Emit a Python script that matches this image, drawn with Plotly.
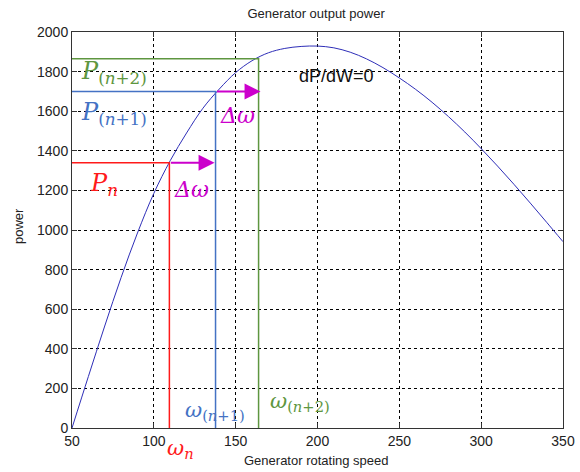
import plotly.graph_objects as go

# Generator power curve: rotating speed vs. output power
speed = [50, 60, 70, 80, 90, 100, 110, 120, 130, 140, 150, 160, 170, 180, 190,
         200, 210, 220, 230, 240, 250, 260, 270, 280, 290, 300, 310, 320, 330,
         340, 350]
power = [0, 260, 515, 760, 985, 1185, 1350, 1490, 1615, 1712, 1795, 1855, 1895,
         1917, 1927, 1929, 1920, 1898, 1864, 1820, 1768, 1710, 1645, 1573, 1495,
         1411, 1323, 1231, 1136, 1039, 941]

# Operating points for successive steps n, n+1, n+2
omega_steps = [109.5, 137.7, 164.0]
power_steps = [1340, 1700, 1865]
step_colors = ["#ff1a1a", "#4472c4", "#5e9640"]

x_ticks = [50, 100, 150, 200, 250, 300, 350]
y_ticks = [0, 200, 400, 600, 800, 1000, 1200, 1400, 1600, 1800, 2000]

MAGENTA = "#cc00cc"
SERIF = "DejaVu Serif"
SANS = "Liberation Sans, Arial"

fig = go.Figure()

fig.add_trace(go.Scatter(
    x=speed, y=power, mode="lines",
    line=dict(color="#2e2eb8", width=1, shape="spline", smoothing=1),
    hoverinfo="skip", showlegend=False,
))

# Horizontal and vertical guide lines through each operating point
for w, p, c in zip(omega_steps, power_steps, step_colors):
    fig.add_trace(go.Scatter(
        x=[x_ticks[0], w, w], y=[p, p, y_ticks[0]], mode="lines",
        line=dict(color=c, width=1.5), hoverinfo="skip", showlegend=False,
    ))

# Step arrows (Δω) from one operating point to the next speed
for i in range(2):
    tip = omega_steps[i + 1] + (1.2 if i == 1 else -0.6)
    fig.add_annotation(
        x=tip, y=power_steps[i], ax=omega_steps[i], ay=power_steps[i],
        xref="x", yref="y", axref="x", ayref="y", text="",
        showarrow=True, arrowhead=2, arrowsize=1.6, arrowwidth=2,
        arrowcolor=MAGENTA, standoff=0, startstandoff=0,
    )

labels = [
    # text, x, y (axis units), color, size
    ("<i>P</i><sub>(<i>n</i>+2)</sub>", 54, 1798, step_colors[2], 24),
    ("<i>P</i><sub>(<i>n</i>+1)</sub>", 54, 1588, step_colors[1], 24),
    ("<i>P</i><sub><i>n</i></sub>", 60, 1230, step_colors[0], 24),
    ("<i>Δω</i>", 139.5, 1578, MAGENTA, 22),
    ("<i>Δω</i>", 111.4, 1205, MAGENTA, 22),
    ("<i>ω</i><sub>(<i>n</i>+1)</sub>", 118.1, 88, step_colors[1], 21),
    ("<i>ω</i><sub>(<i>n</i>+2)</sub>", 170, 129, step_colors[2], 21),
]
for text, x, y, c, s in labels:
    fig.add_annotation(
        x=x, y=y, xref="x", yref="y", text=text, showarrow=False,
        xanchor="left", yanchor="middle",
        font=dict(family=SERIF, size=s, color=c),
    )

# ω_n sits below the axis line, so it is placed in paper units
fig.add_annotation(
    x=107, y=-0.052, xref="x", yref="paper",
    text="<i>ω</i><sub><i>n</i></sub>", showarrow=False,
    xanchor="left", yanchor="middle",
    font=dict(family=SERIF, size=21, color=step_colors[0]),
)

fig.add_annotation(
    x=187.7, y=1780, xref="x", yref="y", text="dP/dW=0", showarrow=False,
    xanchor="left", yanchor="middle",
    font=dict(family=SANS, size=18, color="#111"),
)

# Axis titles
fig.add_annotation(
    x=0.497, y=-0.083, xref="paper", yref="paper",
    text="Generator rotating speed", showarrow=False,
    xanchor="center", yanchor="middle",
    font=dict(family=SANS, size=13, color="#222"),
)
fig.add_annotation(
    x=-0.11, y=0.51, xref="paper", yref="paper",
    text="power", showarrow=False, textangle=-90,
    xanchor="center", yanchor="middle",
    font=dict(family=SANS, size=13, color="#222"),
)

axis_common = dict(
    showline=True, linecolor="#333", linewidth=1, mirror="ticks",
    ticks="inside", ticklen=5, tickcolor="#333",
    showgrid=True, gridcolor="#000", gridwidth=1, griddash="3px,3px",
    zeroline=False, automargin=False,
    tickfont=dict(family=SANS, size=14, color="#222"),
)

fig.update_layout(
    width=580, height=472,
    margin=dict(l=72, r=17, t=32, b=44),
    paper_bgcolor="white", plot_bgcolor="white",
    title=dict(
        text="Generator output power", x=0.545, xanchor="center",
        y=0.972, yanchor="middle",
        font=dict(family=SANS, size=13, color="#222"),
    ),
    xaxis=dict(range=[50, 350], tickvals=x_ticks, **axis_common),
    yaxis=dict(range=[0, 2000], tickvals=y_ticks, **axis_common),
)

fig.write_html("out.html")
